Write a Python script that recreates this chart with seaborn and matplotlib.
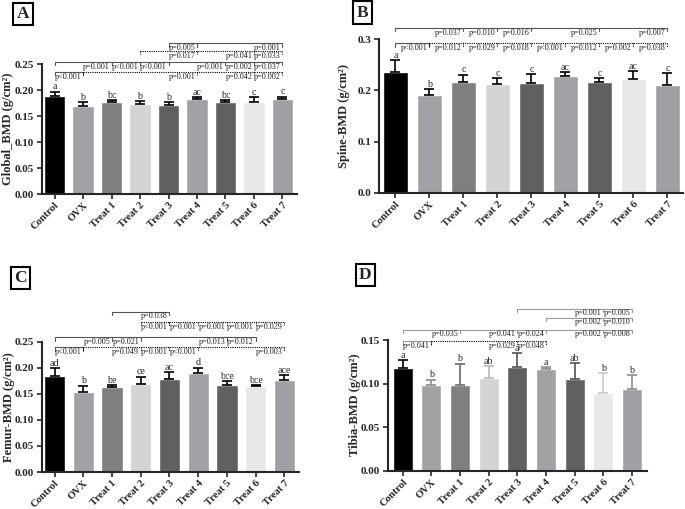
import matplotlib
matplotlib.use('Agg')
import matplotlib.pyplot as plt
import pandas as pd
import seaborn as sns
import numpy as np

groups = ['Control', 'OVX', 'Treat 1', 'Treat 2', 'Treat 3', 'Treat 4', 'Treat 5', 'Treat 6', 'Treat 7']
bar_colors = ['#000000', '#a2a2a6', '#7f7f7f', '#d4d4d4', '#606060', '#a2a2a6', '#606060', '#e8e8e8', '#a0a0a4']

# panel A - global BMD
global_bmd = [0.188, 0.169, 0.177, 0.173, 0.172, 0.183, 0.177, 0.177, 0.182]
global_err = [0.009, 0.007, 0.004, 0.005, 0.004, 0.003, 0.004, 0.009, 0.005]
global_letters = ['a', 'b', 'bc', 'b', 'b', 'ac', 'bc', 'c', 'c']
global_brackets = [
    (0.290, 4, [(5, 'p=0.005'), (8, 'p=0.001')], 'solid'),
    (0.275, 3, [(5, 'p=0.017'), (7, 'p=0.041'), (8, 'p=0.033')], 'dotted'),
    (0.254, 0, [(2, 'p=0.001'), (3, 'p<0.001'), (4, 'p<0.001'), (6, 'p=0.001'), (7, 'p=0.002'), (8, 'p=0.037')], 'solid'),
    (0.235, 0, [(1, 'p<0.001')], 'solid'),
    (0.235, 1, [(5, 'p=0.001'), (7, 'p=0.042'), (8, 'p=0.002')], 'dotted'),
]

# panel B - spine BMD
spine_bmd = [0.2365, 0.1916, 0.217, 0.2125, 0.2144, 0.2274, 0.2157, 0.2215, 0.211]
spine_err = [0.0225, 0.0114, 0.0135, 0.0115, 0.0176, 0.0076, 0.0078, 0.0165, 0.023]
spine_letters = ['a', 'b', 'c', 'c', 'c', 'ac', 'c', 'ac', 'c']
spine_brackets = [
    (0.322, 0, [(2, 'p=0.037'), (3, 'p=0.010'), (4, 'p=0.016'), (6, 'p=0.025'), (8, 'p=0.007')], 'solid'),
    (0.292, 0, [(1, 'p<0.001')], 'solid'),
    (0.292, 1, [(2, 'p=0.012'), (3, 'p=0.029'), (4, 'p=0.018'), (5, 'p<0.001'), (6, 'p=0.012'),
                (7, 'p=0.002'), (8, 'p=0.038')], 'dotted'),
]

# panel C - femur BMD
femur_bmd = [0.1849, 0.154, 0.1637, 0.168, 0.1785, 0.1906, 0.167, 0.165, 0.1766]
femur_err = [0.0141, 0.0117, 0.0033, 0.015, 0.0125, 0.0096, 0.0077, 0.002, 0.0096]
femur_letters = ['ad', 'b', 'be', 'ce', 'ac', 'd', 'bce', 'bce', 'ace']
femur_brackets = [
    (0.308, 2, [(4, 'p=0.038')], 'solid'),
    (0.2885, 3, [(4, 'p<0.001')], 'dotted'),
    (0.2885, 4, [(5, 'p=0.001'), (6, 'p=0.001'), (7, 'p=0.001'), (8, 'p=0.029')], 'dotted'),
    (0.2585, 0, [(2, 'p=0.005'), (3, 'p=0.021'), (6, 'p=0.013'), (7, 'p=0.012')], 'solid'),
    (0.239, 0, [(1, 'p<0.001')], 'solid'),
    (0.239, 1, [(3, 'p=0.049'), (4, 'p=0.001'), (5, 'p<0.001'), (8, 'p=0.003')], 'dotted'),
]

# panel D - tibia BMD
tibia_bmd = [0.1186, 0.099, 0.0983, 0.1071, 0.1193, 0.117, 0.1055, 0.0895, 0.094]
tibia_err = [0.0084, 0.0058, 0.0249, 0.0129, 0.016, 0.002, 0.0184, 0.0229, 0.0158]
tibia_letters = ['a', 'b', 'b', 'ab', 'a', 'a', 'ab', 'b', 'b']
tibia_brackets = [
    (0.1862, 4, [(7, 'p=0.001'), (8, 'p=0.005')], 'solid'),
    (0.1759, 5, [(7, 'p=0.002'), (8, 'p=0.010')], 'solid'),
    (0.1622, 0, [(2, 'p=0.035'), (4, 'p=0.041'), (5, 'p=0.024'), (7, 'p=0.002'), (8, 'p=0.008')], 'solid'),
    (0.1487, 0, [(1, 'p=0.041')], 'solid'),
    (0.1487, 1, [(4, 'p=0.029'), (5, 'p=0.048')], 'dotted'),
]

sns.set_style('ticks')
plt.rcParams['font.family'] = ['Liberation Serif', 'DejaVu Serif']
plt.rcParams['axes.linewidth'] = 1.5

W, H = 685, 509
fig = plt.figure(figsize=(W / 100, H / 100), dpi=100)


def px_axes(left, top, right, bottom):
    return fig.add_axes([left / W, 1 - bottom / H, (right - left) / W, (bottom - top) / H])


def draw_panel(ax, vals, errs, letters, brackets, yticks, fmt, ytop, xlim,
               width=0.74, line_color='#555555', err_colors=None):
    df = pd.DataFrame({'group': groups, 'bmd': vals})
    sns.barplot(data=df, x='group', y='bmd', hue='group', palette=bar_colors,
                legend=False, width=width, errorbar=None, ax=ax, saturation=1)
    x = np.arange(len(groups))
    if err_colors is None:
        err_colors = ['black'] * len(groups)
    for i in x:
        ax.errorbar(i, vals[i], yerr=[[0], [errs[i]]], fmt='none', ecolor=err_colors[i],
                    elinewidth=1.2, capsize=3.4, capthick=1.2)
        ax.annotate(letters[i], xy=(i, vals[i] + errs[i]), xytext=(0, 0.2),
                    textcoords='offset points', ha='center', va='bottom', fontsize=7.2)

    ax.set_ylim(0, ytop)
    ax.set_xlim(*xlim)
    ax_h = ax.get_position().height * H
    tick_len = 3.5 * ytop / ax_h
    for level, start, ends, style in brackets:
        if style == 'solid':
            ls, lc = '-', line_color
        else:
            ls, lc = (0, (1, 1)), 'black'
        last = ends[-1][0]
        ax.plot([start, last], [level, level], ls=ls, color=lc, lw=0.8, clip_on=False)
        ax.plot([start, start], [level, level - tick_len], ls=ls, color=lc, lw=0.8, clip_on=False)
        for end, label in ends:
            ax.plot([end, end], [level, level - tick_len], ls=ls, color=lc, lw=0.8, clip_on=False)
            ax.annotate(label, xy=(end, level), xytext=(-1.2, -0.6), textcoords='offset points',
                        ha='right', va='top', fontsize=5.9, color='#222222')

    sns.despine(ax=ax)
    ax.spines['left'].set_bounds(0, yticks[-1])
    ax.set_yticks(yticks)
    ax.set_yticklabels([fmt.format(t) for t in yticks], fontweight='bold', fontsize=8)
    ax.set_xticks(x)
    ax.set_xticklabels(groups, rotation=45, ha='right', rotation_mode='anchor',
                       fontweight='bold', fontsize=7.6)
    ax.tick_params(axis='y', length=3.5, width=1.2, direction='out', pad=2)
    ax.tick_params(axis='x', length=3.5, width=1.2, direction='out', pad=1)
    ax.set_xlabel('')
    ax.set_ylabel('')


axA = px_axes(42, 35, 297, 194)
draw_panel(axA, global_bmd, global_err, global_letters, global_brackets,
           [0, 0.05, 0.10, 0.15, 0.20, 0.25], '{:.2f}',
           (194 - 35) / 520, (-0.44, 8.51))

axB = px_axes(379, 18, 683, 193)
draw_panel(axB, spine_bmd, spine_err, spine_letters, spine_brackets,
           [0, 0.1, 0.2, 0.3], '{:.1f}',
           (193 - 18) / 513, (-0.485, 8.456))

axC = px_axes(42, 298, 299, 472)
draw_panel(axC, femur_bmd, femur_err, femur_letters, femur_brackets,
           [0, 0.05, 0.10, 0.15, 0.20, 0.25], '{:.2f}',
           (472 - 298) / 521, (-0.44, 8.51))

tibia_err_colors = ['black', '#8c8c90', '#6a6a6a', '#b8b8b8', '#505050', '#8c8c90', '#505050', '#c8c8c8', '#8c8c90']
axD = px_axes(388, 300, 647, 471)
draw_panel(axD, tibia_bmd, tibia_err, tibia_letters, tibia_brackets,
           [0, 0.05, 0.10, 0.15], '{:.2f}',
           (471 - 300) / 872, (-0.514, 8.53), width=0.70, line_color='#999999',
           err_colors=tibia_err_colors)

# y labels
ylabels = [('Global_BMD (g/cm²)', 8.5, 128.5), ('Spine-BMD (g/cm²)', 344.5, 116),
           ('Femur-BMD (g/cm²)', 9, 407), ('Tibia-BMD (g/cm²)', 355, 405)]
for txt, xp, yp in ylabels:
    fig.text(xp / W, 1 - yp / H, txt, rotation=90, ha='center', va='center',
             fontweight='bold', fontsize=9)

# panel letters
for lab, xp, yp in [('A', 23, 14), ('B', 362.5, 12.7), ('C', 20.5, 278), ('D', 365.5, 275)]:
    fig.text(xp / W, 1 - yp / H, lab, ha='center', va='center', fontweight='bold', fontsize=12.5,
             bbox=dict(boxstyle='square,pad=0.2', fc='white', ec='black', lw=1.5))

fig.savefig('out.png', dpi=100)
